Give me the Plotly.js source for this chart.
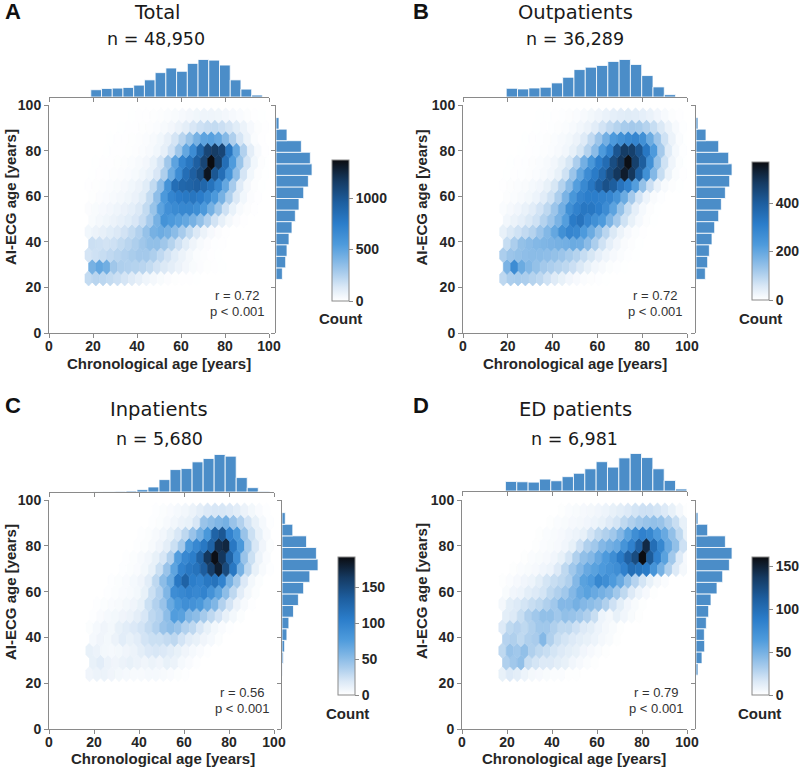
<!DOCTYPE html>
<html>
<head>
<meta charset="utf-8">
<script src="https://cdn.plot.ly/plotly-3.0.1.min.js"></script>
<style>body{margin:0;background:#fff}</style>
</head>
<body>
<div id="chart" style="width:800px;height:767px"></div>
<script>
// hexbin grid: row k sits at y = HEX_Y0 + k*HEX_DY, odd rows are shifted half a hex to the right
const HEX_X0 = 18, HEX_DX = 3.28, HEX_Y0 = 24, HEX_DY = 5.1;

// counts per hex, bottom row first
const hexTotal = [
  [200,230,220,200,180,150,120,90,60,40,25,15,8,5,3,2,0,0,0,0,0,0,0,0,0,0],
  [420,480,440,300,260,250,240,230,200,160,130,100,70,45,25,15,8,4,2,0,0,0,0,0,0],
  [150,170,190,210,230,250,270,290,290,260,210,160,110,70,40,20,10,5,2,0,0,0,0,0,0,0],
  [180,170,160,170,200,230,260,300,340,340,300,240,170,110,60,30,15,6,3,0,0,0,0,0,0],
  [50,70,90,110,130,160,200,250,330,420,450,420,360,280,200,130,70,35,15,5,0,0,0,0,0,0],
  [25,40,55,70,90,110,140,190,280,420,600,560,520,480,420,340,250,160,90,40,15,5,0,0,0],
  [15,25,35,45,60,75,95,130,200,320,500,620,660,680,680,640,560,430,300,170,80,30,10,3,0,0],
  [8,15,22,30,40,55,75,110,200,350,560,700,760,780,800,760,680,560,420,260,130,50,15,4,0],
  [5,8,12,18,25,35,50,70,110,200,350,600,850,900,920,950,900,820,680,480,280,120,40,10,2,0],
  [2,4,6,10,15,22,32,50,80,140,260,450,650,850,950,1050,1330,1000,850,600,350,150,50,10,2],
  [0,2,3,5,8,12,18,28,45,80,150,300,500,700,800,950,1100,1370,1150,850,550,320,150,50,10,2],
  [0,1,2,3,5,8,12,18,28,50,90,170,300,480,650,900,1100,1150,1100,800,480,250,100,30,5],
  [0,0,1,2,3,5,8,12,18,30,50,90,150,230,320,420,500,520,480,380,260,150,70,20,4,0],
  [0,0,0,1,2,3,5,8,12,18,28,45,70,100,140,170,190,200,180,150,110,70,35,12,3],
  [0,0,0,0,1,1,2,3,5,8,12,18,25,35,45,55,60,60,55,45,35,22,12,5,2,0]
];
const hexOut = [
  [90,110,115,110,100,90,70,50,35,22,14,8,5,3,1,0,0,0,0,0,0,0,0,0,0,0],
  [170,270,190,160,140,120,110,100,90,75,55,35,20,12,6,3,1,0,0,0,0,0,0,0,0],
  [110,130,140,145,150,150,145,140,130,115,100,80,60,40,25,14,7,3,1,0,0,0,0,0,0,0],
  [80,110,140,150,160,165,170,175,180,190,185,150,110,70,40,22,10,4,1,0,0,0,0,0,0],
  [35,55,70,85,100,130,160,200,260,290,280,230,190,140,95,55,30,14,6,2,0,0,0,0,0,0],
  [20,30,40,55,70,100,130,170,220,320,340,290,260,230,170,120,70,35,15,5,1,0,0,0,0],
  [8,14,22,32,45,65,90,130,180,260,300,330,330,310,270,210,140,80,40,15,5,1,0,0,0,0],
  [4,8,12,18,28,45,70,110,170,240,290,310,310,300,290,250,190,120,65,28,10,3,0,0,0],
  [2,4,7,10,15,22,35,60,100,150,220,280,330,390,430,400,340,300,220,140,75,32,12,4,1,0],
  [1,2,3,5,8,12,20,35,70,130,200,270,320,370,440,490,540,490,390,260,160,80,30,8,2],
  [0,1,2,3,5,8,12,20,35,60,110,180,240,310,360,440,490,565,470,400,260,140,70,25,6,1],
  [0,0,1,2,3,5,8,12,20,35,60,100,150,230,300,420,480,470,420,330,230,120,50,15,3],
  [0,0,0,1,2,3,5,8,12,18,30,50,85,130,180,230,260,280,290,260,190,130,70,30,8,1],
  [0,0,0,0,1,2,3,5,8,12,20,30,45,65,85,100,115,120,115,100,80,55,30,12,3],
  [0,0,0,0,0,1,1,2,3,5,8,12,18,25,32,40,45,48,45,40,32,22,12,5,2,0]
];
const hexIn = [
  [8,10,10,8,6,5,4,4,5,5,4,3,2,1,0,0,0,0,0,0,0,0,0,0,0,0],
  [12,15,10,8,10,12,10,8,10,8,12,10,5,3,1,0,0,0,0,0,0,0,0,0,0],
  [12,10,6,5,6,8,10,14,18,20,18,15,12,8,5,3,1,0,0,0,0,0,0,0,0,0],
  [5,8,6,10,15,12,15,22,25,25,28,30,22,15,12,8,5,2,0,0,0,0,0,0,0],
  [2,5,8,6,12,15,18,22,28,35,45,50,45,35,30,20,12,6,3,1,0,0,0,0,0,0],
  [1,3,5,6,8,10,14,20,30,35,50,75,72,55,50,40,30,22,12,6,2,0,0,0,0],
  [0,1,2,3,4,6,8,12,25,35,45,65,80,88,85,80,65,55,35,22,10,4,1,0,0,0],
  [0,0,1,2,3,4,6,12,25,35,55,90,95,100,95,100,85,70,50,30,15,6,2,0,0],
  [0,0,0,1,2,3,5,8,15,30,50,65,110,130,105,100,110,115,100,60,40,18,6,2,0,0],
  [0,0,0,0,1,2,3,6,12,25,45,70,100,110,115,135,160,180,150,110,60,30,12,4,1],
  [0,0,0,0,0,1,2,4,7,12,20,35,75,95,105,130,165,190,165,130,90,45,25,10,3,0],
  [0,0,0,0,0,0,1,2,4,8,14,25,40,80,95,110,130,170,175,110,80,40,20,8,2],
  [0,0,0,0,0,0,0,1,2,4,7,12,20,30,45,60,80,130,140,100,80,45,25,12,4,0],
  [0,0,0,0,0,0,0,0,1,2,4,7,10,12,20,45,50,55,60,45,35,22,12,5,1],
  [0,0,0,0,0,0,0,0,0,1,2,3,5,7,10,14,18,20,20,18,15,10,6,3,1,0]
];
const hexED = [
  [10,15,12,8,5,4,3,2,2,1,1,0,0,0,0,0,0,0,0,0,0,0,0,0,0,0],
  [30,35,40,22,18,15,15,12,10,6,4,2,1,0,0,0,0,0,0,0,0,0,0,0,0],
  [25,38,35,40,30,25,22,18,15,12,10,6,4,2,1,0,0,0,0,0,0,0,0,0,0,0],
  [28,30,25,30,32,45,30,22,18,15,12,10,8,5,3,1,0,0,0,0,0,0,0,0,0],
  [15,25,28,25,30,35,35,30,25,25,20,15,12,8,5,3,1,0,0,0,0,0,0,0,0,0],
  [12,15,22,30,35,40,40,35,40,38,35,30,22,8,5,10,6,3,1,0,0,0,0,0,0],
  [5,12,15,18,22,25,30,35,45,45,50,45,42,38,30,20,12,6,3,1,0,0,0,0,0,0],
  [3,6,8,12,15,18,25,30,35,45,55,60,55,50,45,35,25,15,8,4,1,0,0,0,0],
  [1,2,4,6,8,12,18,22,25,30,45,60,65,80,75,65,55,40,28,18,10,5,2,0,0,0],
  [0,1,2,3,4,6,8,15,25,35,45,55,60,65,70,75,85,100,95,90,70,50,30,15,5],
  [0,0,0,1,2,3,4,6,10,18,30,40,45,55,65,75,90,110,125,161,115,85,60,35,15,4],
  [0,0,0,0,1,2,3,4,6,10,20,30,35,45,50,55,70,85,110,145,100,80,55,40,20],
  [0,0,0,0,0,1,2,3,4,6,8,10,18,25,30,35,45,60,75,85,80,65,55,40,25,10],
  [0,0,0,0,0,0,1,2,3,4,5,6,8,10,14,18,25,30,35,38,40,38,30,22,10],
  [0,0,0,0,0,0,0,0,1,2,3,4,5,6,8,10,12,15,18,20,20,18,15,10,5,1]
];

// marginal histogram of chronological age (top): counts, first bin edge, bin width
const topTotal = [1150,1350,1410,1510,1880,2710,3860,4590,4070,5320,5940,5840,5060,2710,1250,310];
const topOut   = [1060,980,1100,1190,1720,2410,3350,3640,3850,4340,4580,3970,2620,1230,290];
const topIn    = [4,8,17,25,59,127,314,568,594,763,848,950,907,365,110,17];
const topED    = [225,217,209,281,241,338,418,523,691,563,780,884,788,523,249,48];
const topBinTotal = [19, 4.875], topBinOut = [19.3, 5.04], topBinIn = [19.5, 4.9], topBinED = [19.3, 5.04];

// marginal histogram of AI-ECG age (right), lowest bin first
const rightTotal = [1160,1770,2010,2380,2920,3530,4200,5060,5910,6580,6270,4630,2010,550];
const rightOut   = [1195,1494,1708,2050,2391,2904,3245,3758,4313,4612,4185,2904,1281,256];
const rightIn    = [9,37,74,138,193,322,460,607,781,1011,965,689,303,92];
const rightED    = [63,188,271,261,323,396,469,657,834,1043,1126,918,365,63];
const rightBin = [23.5, 5.07];

const titles = ['Total', 'Outpatients', 'Inpatients', 'ED patients'];
const nLabels = ['n = 48,950', 'n = 36,289', 'n = 5,680', 'n = 6,981'];
const letters = ['A', 'B', 'C', 'D'];
const rValues = ['0.72', '0.72', '0.56', '0.79'];
const countMax = [1370, 570, 192, 161];
const countTicks = [[0, 500, 1000], [0, 200, 400], [0, 50, 100, 150], [0, 50, 100, 150]];

const colorscale = [
  [0, '#ffffff'], [0.1, '#dae8f6'], [0.2, '#a9ccec'], [0.3, '#7ab3e4'], [0.4, '#4e9bdc'],
  [0.55, '#2b7dca'], [0.7, '#1d5e9f'], [0.85, '#153a62'], [1, '#0b0c10']
];

// pixel boxes of each panel (figure is 800 x 767)
const panels = [
  {hex: hexTotal, top: topTotal, topBin: topBinTotal, right: rightTotal,
   x0: 49, x1: 269, y0: 105, y1: 333, topBase: 97, rightBase: 276, cbX: 332, cbY: 230.5, cbLen: 141,
   title: [157, 12.5], n: [156, 39], letter: [12.5, 12], xlab: [159, 363], ylab: [11, 197], r: [237, 295], count: [340, 318]},
  {hex: hexOut, top: topOut, topBin: topBinOut, right: rightOut,
   x0: 463, x1: 687, y0: 105, y1: 333, topBase: 97, rightBase: 696, cbX: 752, cbY: 231, cbLen: 138,
   title: [575, 12.5], n: [575, 38.5], letter: [420.5, 12], xlab: [574.5, 363], ylab: [421, 197.5], r: [655, 295], count: [760, 318]},
  {hex: hexIn, top: topIn, topBin: topBinIn, right: rightIn,
   x0: 49, x1: 274, y0: 500, y1: 729, topBase: 492, rightBase: 282, cbX: 338, cbY: 626, cbLen: 138,
   title: [159, 410], n: [159, 439], letter: [12.5, 405], xlab: [162.5, 758], ylab: [10, 592], r: [242, 692], count: [347, 713]},
  {hex: hexED, top: topED, topBin: topBinED, right: rightED,
   x0: 462, x1: 687, y0: 500, y1: 729, topBase: 491, rightBase: 696, cbX: 752, cbY: 626, cbLen: 138,
   title: [575, 410], n: [574, 439], letter: [420.5, 405], xlab: [574, 758], ylab: [421, 591], r: [656, 692], count: [759, 713]}
];

const W = 800, H = 767;
const px = v => v / W;
const py = v => 1 - v / H;

const ink = '#262626';
const boldFont = {family: 'Liberation Sans, Arial, sans-serif', size: 14, color: ink, weight: 'bold'};
const spine = '#8a8a8a';
const barColor = '#4b8dc8';

function toRgb(h) {
  return [1, 3, 5].map(i => parseInt(h.substr(i, 2), 16));
}
function colorAt(t) {
  t = Math.max(0, Math.min(1, t));
  for (let i = 1; i < colorscale.length; i++) {
    if (t <= colorscale[i][0]) {
      const a = toRgb(colorscale[i - 1][1]), b = toRgb(colorscale[i][1]);
      const f = (t - colorscale[i - 1][0]) / (colorscale[i][0] - colorscale[i - 1][0]);
      return 'rgb(' + a.map((v, j) => Math.round(v + (b[j] - v) * f)).join(',') + ')';
    }
  }
  return colorscale[colorscale.length - 1][1];
}

const data = [];
const shapes = [];
const annotations = [];
const layout = {
  width: W, height: H,
  margin: {l: 0, r: 0, t: 0, b: 0},
  paper_bgcolor: '#fff', plot_bgcolor: 'rgba(0,0,0,0)',
  showlegend: false, hovermode: false,
  shapes: shapes, annotations: annotations
};

function note(text, xy, font, extra) {
  annotations.push(Object.assign({
    text: text, x: px(xy[0]), y: py(xy[1]), xref: 'paper', yref: 'paper',
    xanchor: 'center', yanchor: 'middle', showarrow: false, font: font, borderpad: 0
  }, extra || {}));
}

const ticks100 = [0, 20, 40, 60, 80, 100];

panels.forEach((p, k) => {
  const m = 3 * k + 1, t = m + 1, r = m + 2;
  const ax = n => (n === 1 ? '' : n);
  const xDom = [px(p.x0), px(p.x1)];
  const yDom = [py(p.y1), py(p.y0)];

  // main hexbin axes
  const mainAxis = {
    range: [0, 100], tickvals: ticks100, ticks: 'outside', ticklen: 4, tickcolor: spine,
    showline: true, linecolor: spine, linewidth: 1, showgrid: false, zeroline: false,
    tickfont: boldFont, fixedrange: true
  };
  layout['xaxis' + ax(m)] = Object.assign({}, mainAxis, {domain: xDom, anchor: 'y' + ax(m), ticklabelstandoff: -4});
  layout['yaxis' + ax(m)] = Object.assign({}, mainAxis, {domain: yDom, anchor: 'x' + ax(m)});

  // top marginal
  const topMax = Math.max(...p.top);
  layout['xaxis' + t] = Object.assign({}, mainAxis, {domain: xDom, anchor: 'y' + t, showticklabels: false});
  layout['yaxis' + t] = {domain: [py(p.topBase), py(p.topBase - 42)], range: [0, topMax * 1.12],
    visible: false, anchor: 'x' + t, fixedrange: true};

  // right marginal
  const rightMax = Math.max(...p.right);
  layout['yaxis' + r] = Object.assign({}, mainAxis, {domain: yDom, anchor: 'x' + r, showticklabels: false});
  layout['xaxis' + r] = {domain: [px(p.rightBase), px(p.rightBase + 40)], range: [0, rightMax * 1.11],
    visible: false, anchor: 'y' + r, fixedrange: true};

  // hexagons
  const hw = HEX_DX / 2, hf = HEX_DY / 3, ht = 2 * HEX_DY / 3;
  const cx = [], cy = [], cv = [];
  p.hex.forEach((row, j) => {
    row.forEach((v, i) => {
      if (v <= 0) return;
      const x = HEX_X0 + (i + (j % 2 ? 0.5 : 0)) * HEX_DX;
      const y = HEX_Y0 + j * HEX_DY;
      cx.push(x); cy.push(y); cv.push(v);
      const c = colorAt(v / countMax[k]);
      shapes.push({
        type: 'path', xref: 'x' + ax(m), yref: 'y' + ax(m), layer: 'below',
        path: `M${x + hw},${y - hf}L${x + hw},${y + hf}L${x},${y + ht}L${x - hw},${y + hf}L${x - hw},${y - hf}L${x},${y - ht}Z`,
        fillcolor: c, line: {color: c, width: 0.6}
      });
    });
  });

  // invisible centres carry the colour scale and the colorbar
  data.push({
    type: 'scatter', mode: 'markers', x: cx, y: cy, xaxis: 'x' + ax(m), yaxis: 'y' + ax(m),
    marker: {
      size: 4, opacity: 0, color: cv, colorscale: colorscale, cmin: 0, cmax: countMax[k], showscale: true,
      colorbar: {
        x: px(p.cbX), xanchor: 'left', y: py(p.cbY), yanchor: 'middle',
        len: p.cbLen, lenmode: 'pixels', thickness: 17, thicknessmode: 'pixels',
        xpad: 0, ypad: 0, outlinewidth: 1, outlinecolor: spine,
        ticks: 'outside', ticklen: 4, tickcolor: spine, tickvals: countTicks[k],
        tickfont: boldFont
      }
    }
  });

  // marginal bars
  const [tStart, tWidth] = p.topBin;
  data.push({
    type: 'bar', x: p.top.map((_, i) => tStart + (i + 0.5) * tWidth), y: p.top, width: tWidth,
    xaxis: 'x' + t, yaxis: 'y' + t,
    marker: {color: barColor, line: {color: '#fff', width: 0.8}}
  });
  const [rStart, rWidth] = rightBin;
  data.push({
    type: 'bar', orientation: 'h', y: p.right.map((_, i) => rStart + (i + 0.5) * rWidth), x: p.right, width: rWidth,
    xaxis: 'x' + r, yaxis: 'y' + r,
    marker: {color: barColor, line: {color: '#fff', width: 0.8}}
  });

  // texts
  note(letters[k], p.letter, {family: 'Liberation Sans, Arial, sans-serif', size: 22, color: '#111', weight: 'bold'});
  note(titles[k], p.title, {family: 'DejaVu Sans, sans-serif', size: 19.5, color: '#1a1a1a'});
  note(nLabels[k], p.n, {family: 'DejaVu Sans, sans-serif', size: 17.5, color: '#1a1a1a'});
  note('Chronological age [years]', p.xlab, Object.assign({}, boldFont, {size: 15}));
  note('AI-ECG age [years]', p.ylab, Object.assign({}, boldFont, {size: 15}), {textangle: -90});
  note('r = ' + rValues[k], p.r, {family: 'Liberation Sans, Arial, sans-serif', size: 13, color: '#333'});
  note('p < 0.001', [p.r[0], p.r[1] + 16.5], {family: 'Liberation Sans, Arial, sans-serif', size: 13, color: '#333'});
  note('Count', p.count, Object.assign({}, boldFont, {size: 15}));
});

Plotly.newPlot('chart', data, layout, {staticPlot: true, displayModeBar: false});
</script>
</body>
</html>
